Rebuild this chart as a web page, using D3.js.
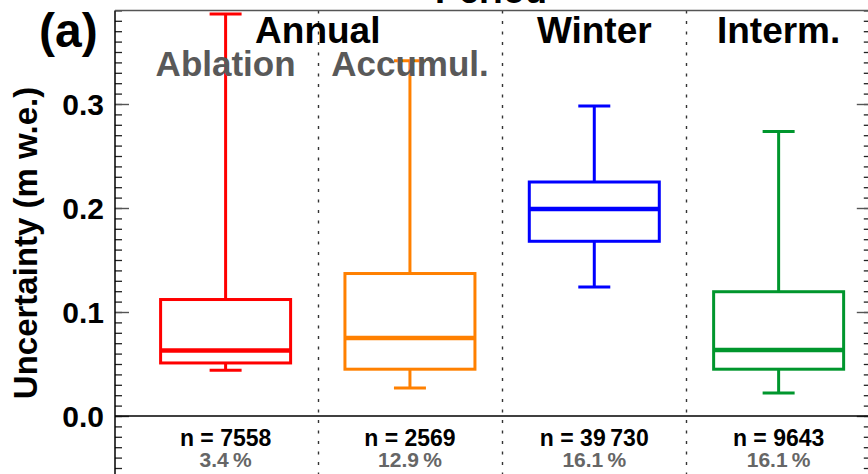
<!DOCTYPE html>
<html>
<head>
<meta charset="utf-8">
<script src="https://cdn.jsdelivr.net/npm/d3@7"></script>
<style>
  body { margin: 0; background: #fff; }
  svg { display: block; font-family: "Liberation Sans", Arial, Helvetica, sans-serif; }
</style>
</head>
<body>
<div id="ch"></div>
<script>
// Uncertainty box plots by period

const periods = ["Ablation", "Accumul.", "Winter", "Interm."];
const colors = ["#ff0000", "#ff8000", "#0000ff", "#00962d"];
const whiskLow = [0.044, 0.027, 0.124, 0.022];
const q1 = [0.051, 0.045, 0.168, 0.045];
const med = [0.063, 0.075, 0.199, 0.0635];
const q3 = [0.112, 0.137, 0.225, 0.1195];
const whiskHigh = [0.3865, 0.3415, 0.298, 0.2735];
const nLabels = ["n = 7558", "n = 2569", "n = 39\u2009730", "n = 9643"];
const pctLabels = ["3.4\u2009%", "12.9\u2009%", "16.1\u2009%", "16.1\u2009%"];
const groupLabels = ["Annual", "Winter", "Interm."];
const groupPos = [1.5, 3, 4];
const subLabels = ["Ablation", "Accumul."];
const yTicks = [0, 0.1, 0.2, 0.3];
const yTickLabels = ["0.0", "0.1", "0.2", "0.3"];

const width = 868;
const height = 474;

/* Scales */
const x = d3.scaleLinear().domain([0.4, 4.5]).range([115, 870.8]);
const y = d3.scaleLinear().domain([0, 0.3]).range([416, 104]);
const yTop = 0.39;
const boxHalf = 65;
const capHalf = 16;

const svg = d3
  .select("#ch")
  .append("svg")
  .attr("width", width)
  .attr("height", height);

/* Title (mostly cut off at the top) */
svg.append("text")
  .attr("x", 491)
  .attr("y", 3)
  .attr("text-anchor", "middle")
  .style("font-size", "36px")
  .style("font-weight", "bold")
  .text("Period");

/* Dividers */
svg.selectAll(".div")
  .data([1.5, 2.5, 3.5])
  .enter()
  .append("line")
  .attr("x1", (d) => Math.round(x(d)) + 0.5)
  .attr("x2", (d) => Math.round(x(d)) + 0.5)
  .attr("y1", y(yTop))
  .attr("y2", height)
  .attr("stroke", "#333")
  .attr("stroke-width", 1.4)
  .attr("stroke-dasharray", "3,7.5");

/* Minor ticks, left and right */
const minor = d3.range(-6, 40).map((i) => i / 100).filter((v) => v <= yTop);
const leftAxis = d3.axisRight(y).tickValues(minor).tickSize(7).tickFormat("");
const rightAxis = d3.axisLeft(y).tickValues(minor).tickSize(7).tickFormat("");
const gl = svg.append("g").attr("transform", `translate(${x(0.4)},0)`).call(leftAxis);
const gr = svg.append("g").attr("transform", `translate(${x(4.5)},0)`).call(rightAxis);
[gl, gr].forEach((g) => {
  g.select(".domain").remove();
  g.selectAll("line").attr("stroke", "#222").attr("stroke-width", 1.3);
});

/* Major ticks */
const majL = d3.axisRight(y).tickValues(yTicks).tickSize(14).tickFormat("");
const majR = d3.axisLeft(y).tickValues(yTicks).tickSize(14).tickFormat("");
const gml = svg.append("g").attr("transform", `translate(${x(0.4)},0)`).call(majL);
const gmr = svg.append("g").attr("transform", `translate(${x(4.5)},0)`).call(majR);
[gml, gmr].forEach((g) => {
  g.select(".domain").remove();
  g.selectAll("line").attr("stroke", "#555").attr("stroke-width", 1.4);
});

/* Tick labels */
svg.selectAll(".ylab")
  .data(yTicks)
  .enter()
  .append("text")
  .attr("x", 104)
  .attr("y", (d) => y(d))
  .attr("dy", "0.36em")
  .attr("text-anchor", "end")
  .style("font-size", "30px")
  .style("font-weight", "bold")
  .text((d, i) => yTickLabels[i]);

/* Frame lines */
svg.append("line")
  .attr("x1", 115).attr("x2", 115)
  .attr("y1", y(yTop)).attr("y2", height)
  .attr("stroke", "#000").attr("stroke-width", 1.5);
svg.append("line")
  .attr("x1", 115).attr("x2", width)
  .attr("y1", y(yTop)).attr("y2", y(yTop))
  .attr("stroke", "#555").attr("stroke-width", 1.5);
svg.append("line")
  .attr("x1", 115).attr("x2", width)
  .attr("y1", y(0)).attr("y2", y(0))
  .attr("stroke", "#000").attr("stroke-width", 1.6);

/* Y label */
svg.append("text")
  .attr("transform", "translate(37,243) rotate(-90)")
  .attr("text-anchor", "middle")
  .style("font-size", "33px")
  .style("font-weight", "bold")
  .text("Uncertainty (m w.e.)");

/* Panel letter */
svg.append("text")
  .attr("x", 39)
  .attr("y", 47)
  .style("font-size", "48px")
  .style("font-weight", "bold")
  .text("(a)");

/* Boxes */
const idx = d3.range(periods.length);
const boxes = svg.selectAll(".box")
  .data(idx)
  .enter()
  .append("g")
  .attr("stroke", (i) => colors[i])
  .attr("fill", "none");

// whiskers
boxes.append("line")
  .attr("x1", (i) => x(i + 1)).attr("x2", (i) => x(i + 1))
  .attr("y1", (i) => y(whiskHigh[i])).attr("y2", (i) => y(q3[i]))
  .attr("stroke-width", 3);
boxes.append("line")
  .attr("x1", (i) => x(i + 1)).attr("x2", (i) => x(i + 1))
  .attr("y1", (i) => y(q1[i])).attr("y2", (i) => y(whiskLow[i]))
  .attr("stroke-width", 3);
// caps
boxes.append("line")
  .attr("x1", (i) => x(i + 1) - capHalf).attr("x2", (i) => x(i + 1) + capHalf)
  .attr("y1", (i) => y(whiskHigh[i])).attr("y2", (i) => y(whiskHigh[i]))
  .attr("stroke-width", 3);
boxes.append("line")
  .attr("x1", (i) => x(i + 1) - capHalf).attr("x2", (i) => x(i + 1) + capHalf)
  .attr("y1", (i) => y(whiskLow[i])).attr("y2", (i) => y(whiskLow[i]))
  .attr("stroke-width", 3);
// box
boxes.append("rect")
  .attr("x", (i) => x(i + 1) - boxHalf)
  .attr("y", (i) => y(q3[i]))
  .attr("width", boxHalf * 2)
  .attr("height", (i) => y(q1[i]) - y(q3[i]))
  .attr("stroke-width", 3);
// median
boxes.append("line")
  .attr("x1", (i) => x(i + 1) - boxHalf).attr("x2", (i) => x(i + 1) + boxHalf)
  .attr("y1", (i) => y(med[i])).attr("y2", (i) => y(med[i]))
  .attr("stroke-width", 4.5);

/* Headings */
svg.selectAll(".grp")
  .data(groupLabels)
  .enter()
  .append("text")
  .attr("x", (d, i) => x(groupPos[i]))
  .attr("y", 43)
  .attr("text-anchor", "middle")
  .style("font-size", "37px")
  .style("font-weight", "bold")
  .text((d) => d);

svg.selectAll(".sub")
  .data(subLabels)
  .enter()
  .append("text")
  .attr("x", (d, i) => x(i + 1))
  .attr("y", 76)
  .attr("text-anchor", "middle")
  .style("font-size", "35px")
  .style("font-weight", "bold")
  .style("fill", "#595959")
  .text((d) => d);

/* Counts and shares */
svg.selectAll(".n")
  .data(nLabels)
  .enter()
  .append("text")
  .attr("x", (d, i) => x(i + 1))
  .attr("y", 446)
  .attr("text-anchor", "middle")
  .style("font-size", "23px")
  .style("font-weight", "bold")
  .text((d) => d);

svg.selectAll(".pct")
  .data(pctLabels)
  .enter()
  .append("text")
  .attr("x", (d, i) => x(i + 1))
  .attr("y", 467)
  .attr("text-anchor", "middle")
  .style("font-size", "21px")
  .style("font-weight", "bold")
  .style("fill", "#666")
  .text((d) => d);
</script>
</body>
</html>
